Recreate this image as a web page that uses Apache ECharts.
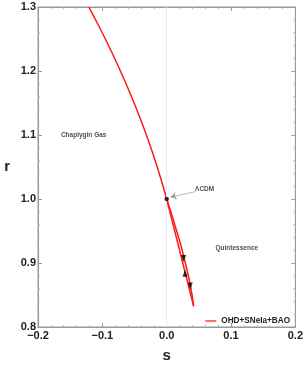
<!DOCTYPE html>
<html><head><meta charset="utf-8">
<script src="https://cdn.jsdelivr.net/npm/echarts@6/dist/echarts.min.js"></script>
<style>html,body{margin:0;padding:0;background:#fff}#c{width:306px;height:368px}</style>
</head><body><div id="c"></div>
<script>
// Data
const upperBranch = [[-0.121,1.3],[-0.1079,1.275],[-0.0953,1.25],[-0.0833,1.225],[-0.0719,1.2],[-0.061,1.175],[-0.0506,1.15],[-0.0408,1.125],[-0.0315,1.1],[-0.0228,1.075],[-0.0147,1.05],[-0.0071,1.025],[0,1.0]];
const downBranch = [[0,1.0],[0.005,0.98],[0.0125,0.95],[0.0188,0.925],[0.025,0.9],[0.0313,0.875],[0.0375,0.85],[0.0419,0.8325]];
const returnBranch = [[0.0419,0.8325],[0.0395,0.85],[0.0348,0.875],[0.029,0.9],[0.0228,0.925],[0.0155,0.95],[0.0065,0.98],[0,1.0]];
const arrowsDown = [[0.0262,0.907],[0.0366,0.864]];
const arrowsUp = [[0.0285,0.884]];
const lcdmPoint = [[0,1.0]];
const labels = [
  {name:'Chaplygin Gas', pos:[-0.129,1.1]},
  {name:'Quintessence', pos:[0.109,0.923]},
  {name:'ΛCDM', pos:[0.059,1.015]}
];
const lcdmArrow = [[0.0446,1.0115],[0.006,1.003]];
const xTicks = [-0.2,-0.1,0.0,0.1,0.2];
const yTicks = [0.8,0.9,1.0,1.1,1.2,1.3];
const seriesName = 'OHD+SNeIa+BAO';

const red = '#ff1a1a';
const FONT = '"Liberation Sans", Arial, sans-serif';
const chart = echarts.init(document.getElementById('c'));
const mainLine = upperBranch.concat(downBranch.slice(1));

const axisCommon = {
  axisLine:{onZero:false,lineStyle:{color:'#999',width:1}},
  axisTick:{show:true,inside:true,length:4,lineStyle:{color:'#999'}},
  minorTick:{show:true,splitNumber:5,length:2,lineStyle:{color:'#bbb'}},
  splitLine:{show:false}
};
chart.setOption({
  animation:false,
  grid:{left:38,right:8,top:7,bottom:36,show:true,borderColor:'#999',borderWidth:1},
  legend:{
    data:[{name:seriesName,icon:'path://M0,0 L12,0 L12,1.4 L0,1.4 Z'}],
    right:16,top:317,padding:0,itemWidth:11,itemHeight:2,itemGap:4,
    textStyle:{fontFamily:FONT,fontWeight:'bold',fontSize:8.2,color:'#222'}
  },
  xAxis:[{
    type:'value',min:-0.2,max:0.2,interval:0.1,position:'bottom',
    name:'s',nameLocation:'middle',nameGap:21,
    nameTextStyle:{fontFamily:FONT,fontWeight:'bold',fontSize:15,color:'#222'},
    axisLabel:{fontFamily:FONT,fontWeight:'bold',fontSize:11,color:'#222',margin:3,
      formatter:v=>{const t=xTicks.find(x=>Math.abs(x-v)<1e-9);return t===undefined?'':(t<0?'\u2212'+Math.abs(t).toFixed(1):t.toFixed(1));}},
    ...axisCommon
  },{
    type:'value',min:-0.2,max:0.2,interval:0.1,position:'top',axisLabel:{show:false},...axisCommon
  }],
  yAxis:[{
    type:'value',min:0.8,max:1.3,interval:0.1,position:'left',
    name:'r',nameLocation:'middle',nameGap:28,nameRotate:0,
    nameTextStyle:{fontFamily:FONT,fontWeight:'bold',fontSize:15,color:'#222'},
    axisLabel:{fontFamily:FONT,fontWeight:'bold',fontSize:11,color:'#222',margin:2,
      formatter:v=>{const t=yTicks.find(x=>Math.abs(x-v)<1e-9);return t===undefined?'':t.toFixed(1);}},
    ...axisCommon
  },{
    type:'value',min:0.8,max:1.3,interval:0.1,position:'right',axisLabel:{show:false},...axisCommon
  }],
  series:[
    {name:seriesName,type:'line',data:mainLine,showSymbol:false,smooth:0.2,
     lineStyle:{color:red,width:1.5},itemStyle:{color:red},z:3,
     markLine:{silent:true,symbol:'none',label:{show:false},
       lineStyle:{color:'#e8e8e8',width:1,type:'solid'},data:[{xAxis:0}]}},
    {type:'line',data:returnBranch,showSymbol:false,smooth:0.2,
     lineStyle:{color:red,width:1.5},itemStyle:{color:red},z:3},
    {type:'scatter',data:arrowsDown,symbol:'triangle',symbolRotate:180,symbolSize:[5,7],
     itemStyle:{color:'#000'},z:5},
    {type:'scatter',data:arrowsUp,symbol:'triangle',symbolSize:[5,7],
     itemStyle:{color:'#000'},z:5},
    {type:'scatter',data:lcdmPoint,symbol:'circle',symbolSize:4.5,itemStyle:{color:'#000'},z:6},
    {type:'lines',coordinateSystem:'cartesian2d',data:[{coords:lcdmArrow}],
     symbol:['none','arrow'],symbolSize:6,lineStyle:{color:'#555',width:0.8},z:6},
    {type:'scatter',symbolSize:0,z:7,
     data:labels.map(l=>({name:l.name,value:l.pos})),
     label:{show:true,position:'inside',formatter:p=>p.name,
       fontFamily:FONT,fontSize:6.5,fontWeight:'bold',color:'#222'}}
  ]
});
</script></body></html>
